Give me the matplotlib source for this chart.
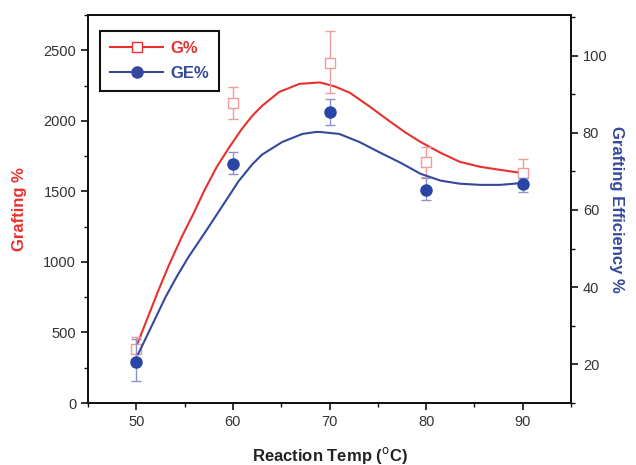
import matplotlib
matplotlib.use("Agg")
import matplotlib.pyplot as plt
from matplotlib.lines import Line2D
from matplotlib.ticker import MultipleLocator

plt.rcParams['font.family'] = ['Liberation Sans', 'DejaVu Sans']

# measured points
temps = [50, 60, 70, 80, 90]
g_pct = [382, 2128, 2411, 1711, 1633]
g_err_up = [85, 113, 226, 106, 99]
g_err_dn = [85, 113, 212, 106, 99]
ge_pct = [20.6, 71.8, 85.4, 65.3, 66.8]
ge_err_up = [6.0, 3.1, 3.3, 2.9, 1.6]
ge_err_dn = [5.0, 2.6, 3.5, 2.7, 2.1]

# fitted curves
g_fit_t = [50.0, 52.3, 53.3, 54.7, 55.9, 57.0, 58.3, 59.6, 60.9, 62.0, 63.0, 64.8,
           66.9, 69.0, 70.5, 72.1, 74.2, 76.3, 77.8, 79.4, 81.5, 83.5, 85.6, 87.7, 89.8]
g_fit_v = [400, 800, 965, 1177, 1340, 1500, 1670, 1810, 1940, 2035, 2105, 2205,
           2262, 2272, 2245, 2199, 2099, 1993, 1920, 1851, 1773, 1709, 1674, 1652, 1631]
ge_fit_t = [50.2, 53.0, 54.2, 55.4, 57.2, 59.3, 60.6, 62.0, 63.0, 65.1, 67.2,
            68.6, 69.0, 71.0, 73.1, 75.2, 77.3, 79.4, 81.5, 83.5, 85.6, 87.7, 90.0]
ge_fit_v = [22.7, 37.3, 42.8, 47.8, 54.5, 62.5, 67.5, 71.8, 74.3, 77.6, 79.7,
            80.2, 80.2, 79.7, 77.6, 74.9, 72.3, 69.4, 67.6, 66.8, 66.5, 66.5, 67.0]

RED = '#e8312f'
BLUE = '#34489e'
RED_LIGHT = '#f19a9a'
BLUE_LIGHT = '#8d93c9'
TXT = '#333333'

fig = plt.figure(figsize=(6.36, 4.65), dpi=100)
ax = fig.add_axes([88/636, 1-403/465, (571-88)/636, (403-15)/465])
ax2 = ax.twinx()

ax.plot(g_fit_t, g_fit_v, color=RED, lw=1.5, zorder=3)
ax.errorbar(temps, g_pct, yerr=[g_err_dn, g_err_up], fmt='s', mfc='white',
            mec=RED_LIGHT, mew=1.0, ms=7, ecolor=RED_LIGHT, elinewidth=1.0,
            capsize=3.5, capthick=1.0, zorder=4)

ax2.plot(ge_fit_t, ge_fit_v, color=BLUE, lw=1.5, zorder=3)
ax2.errorbar(temps, ge_pct, yerr=[ge_err_dn, ge_err_up], fmt='o', mfc='#2a45a5',
             mec='#2a45a5', ms=8, ecolor=BLUE_LIGHT, elinewidth=1.0,
             capsize=3.5, capthick=1.0, zorder=4)

ax.set_xlim(45, 95)
ax.set_ylim(0, 2750)
ax2.set_ylim(10, 110.5)

ax.xaxis.set_major_locator(MultipleLocator(10))
ax.xaxis.set_minor_locator(MultipleLocator(5))
ax.yaxis.set_major_locator(MultipleLocator(500))
ax.yaxis.set_minor_locator(MultipleLocator(250))
ax2.yaxis.set_major_locator(MultipleLocator(20))
ax2.yaxis.set_minor_locator(MultipleLocator(10))

for a in (ax, ax2):
    for s in a.spines.values():
        s.set_linewidth(1.3)
        s.set_color('#111111')
    a.tick_params(which='major', direction='out', length=5, width=1.2,
                  labelsize=10.5, labelcolor=TXT, color='#111111')
    a.tick_params(which='minor', direction='out', length=3, width=1.0, color='#111111')
ax.tick_params(axis='x', top=False, which='both')
ax.tick_params(axis='y', right=False, which='both')
ax2.tick_params(axis='y', left=False, which='both')

ax.set_xlabel('Reaction Temp ($^{\\mathrm{o}}$C)', fontsize=12, fontweight='bold',
              color='#222222', labelpad=12)
ax.set_ylabel('Grafting %', fontsize=12, fontweight='bold', color=RED, labelpad=12)
ax2.set_ylabel('Grafting Efficiency %', fontsize=12, fontweight='bold', color=BLUE,
               rotation=270, labelpad=12)

h1 = Line2D([], [], color=RED, lw=1.5, marker='s', mfc='white', mec=RED, ms=7)
h2 = Line2D([], [], color=BLUE, lw=1.5, marker='o', mfc=BLUE, mec=BLUE, ms=8)
leg = ax2.legend([h1, h2], ['G%', 'GE%'], loc='upper left',
                 bbox_to_anchor=((100-88)/483, (403-30.7)/388), borderaxespad=0,
                 fancybox=False, edgecolor='#111111', framealpha=1,
                 prop={'weight': 'bold', 'size': 12}, handlelength=3.2,
                 borderpad=0.6, labelspacing=0.6, handletextpad=0.4)
leg.get_frame().set_linewidth(1.5)
leg.get_texts()[0].set_color(RED)
leg.get_texts()[1].set_color(BLUE)

fig.savefig('out.png', dpi=100)
